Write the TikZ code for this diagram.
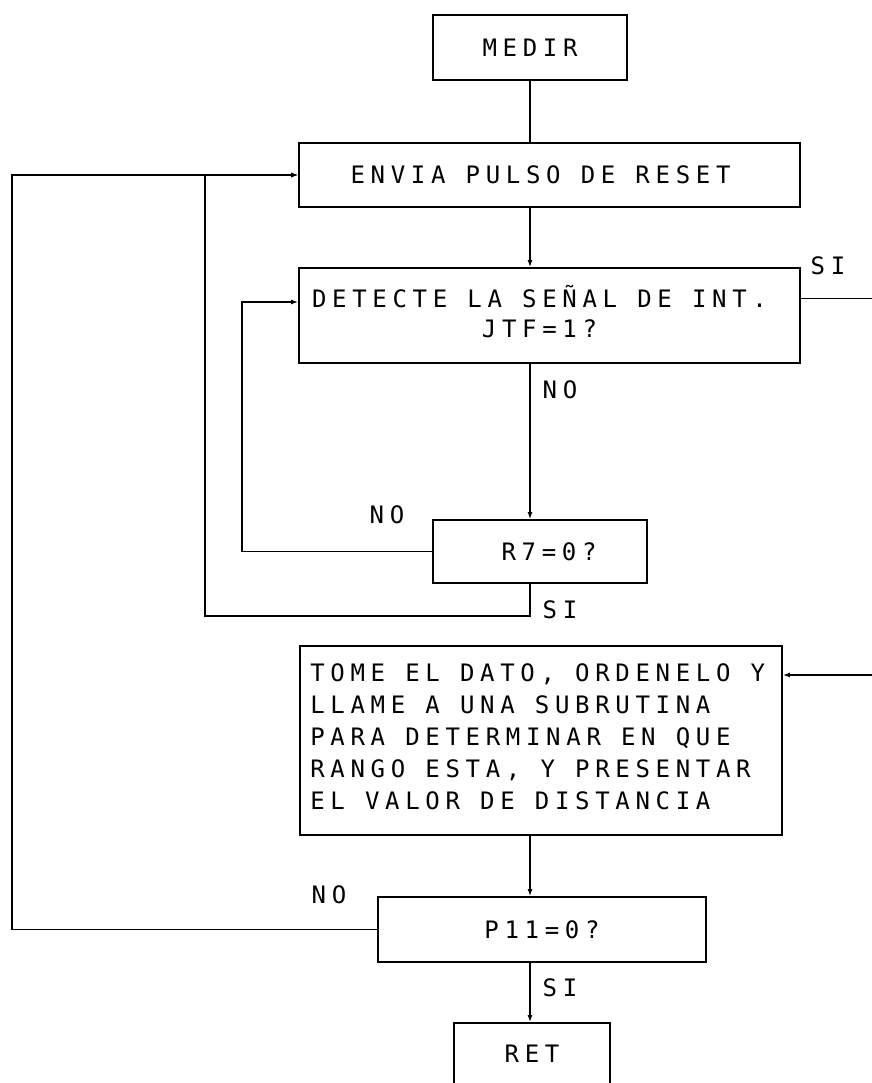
\documentclass[tikz,border=0pt]{standalone}
\usepackage{fontspec}
\newfontfamily\plotfont[LetterSpace=23.7]{DejaVu Sans Mono}
\usetikzlibrary{arrows.meta}
\begin{document}
\begin{tikzpicture}[x=1pt,y=-1pt,
  txt/.style={font=\plotfont\fontsize{24}{30}\selectfont},
  box/.style={draw, line width=1.8pt, inner sep=0pt, txt},
  lbl/.style={inner sep=0pt, txt},
  wire/.style={line width=1.6pt},
  arr/.style={wire, -{Latex[length=7pt,width=5pt]}}]
\useasboundingbox (0,0) rectangle (871,1083);
\coordinate (c) at (530,0);
% boxes
\node[box, minimum width=194pt, minimum height=65pt] (medir) at (530,47.5) {MEDIR};
\node[box, minimum width=501pt, minimum height=64pt] (envia) at (549.5,175) {ENVIA PULSO DE RESET\hspace*{18pt}};
\node[box, minimum width=501pt, minimum height=95pt] (detecte) at (549.5,315.5) {};
\node[lbl, align=center] (dettxt) at ([xshift=-10pt,yshift=4pt]detecte.center) {DETECTE LA SEÑAL DE INT.\\JTF=1?};
\node[box, minimum width=214pt, minimum height=63pt] (r7) at (540,551.5) {\hspace*{18pt}R7=0?};
\node[box, minimum width=482pt, minimum height=189pt] (tome) at (541,740.5) {};
\node[lbl, anchor=west, align=left, font=\plotfont\fontsize{24}{32}\selectfont] (tometxt)
  at ([xshift=11pt,yshift=4pt]tome.west)
  {TOME EL DATO, ORDENELO Y\\LLAME A UNA SUBRUTINA\\PARA DETERMINAR EN QUE\\RANGO ESTA, Y PRESENTAR\\EL VALOR DE DISTANCIA};
\node[box, minimum width=328pt, minimum height=65pt] (p11) at (542,929.5) {P11=0?};
\node[box, minimum width=156pt, minimum height=61pt] (ret) at (532,1053.5) {RET};
% labels
\node[lbl] (l1) at (560,390) {NO};
\node[lbl] (l2) at (387,515) {NO};
\node[lbl] (l3) at (560,610) {SI};
\node[lbl] (l4) at (828,266) {SI};
\node[lbl] (l5) at (329,895) {NO};
\node[lbl] (l6) at (560,988) {SI};
% connectors
\draw[wire] (medir.south -| c) -- (envia.north -| c);
\draw[arr] (envia.south -| c) -- (detecte.north -| c);
\draw[arr] (detecte.south -| c) -- (r7.north -| c);
\draw[arr] (r7.west) -- ++(-190,0) |- ([yshift=13.5pt]detecte.west);
\draw[arr] (r7.south -| c) -- ++(0,32) -| (205,175) -- (envia.west);
\draw[arr] (p11.west) -| (12,175) -- (envia.west);
\draw[arr] ([yshift=17pt]detecte.east) -- ++(90,0) |- ([yshift=65.5pt]tome.east);
\draw[arr] (tome.south -| c) -- (p11.north -| c);
\draw[arr] (p11.south -| c) -- (ret.north -| c);
\end{tikzpicture}
\end{document}
